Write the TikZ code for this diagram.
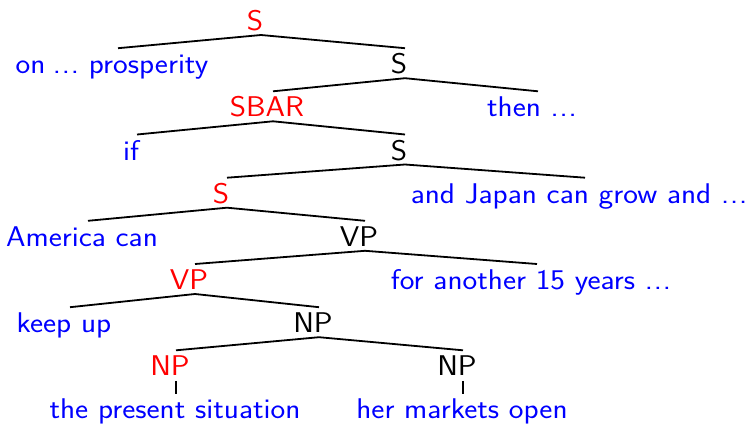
\documentclass[tikz,border=0pt]{standalone}
\usepackage{fontspec}
\setsansfont{Latin Modern Sans}[FakeStretch=1.095]
\newcommand\tdots{.\kern.03em.\kern.03em.}
\begin{document}
\begin{tikzpicture}[x=1pt,y=-1pt,
  lab/.style={anchor=base, inner sep=0pt, font=\sffamily\fontsize{28.5}{34}\selectfont},
  cat/.style={lab, text=black},
  hd/.style={lab, text=red},
  wd/.style={lab, text=blue},
  br/.style={draw=black, line width=1.8pt}]
\newcommand\tedge[2]{\draw[br] ([xshift=6pt,yshift=-4.5pt]#1.base) -- ([xshift=6pt,yshift=25.5pt]#2.base);}
\useasboundingbox (0,0) rectangle (746,423);
% level 0
\node[hd] (s0) at (255,30.5) {S};
% level 1
\node[wd] (w1) at (112,73.7) {on\kern-.08em\ \tdots\ prosperity};
\node[cat] (s1) at (399,73.7) {S};
% level 2
\node[hd] (sbar) at (267,116.8) {SBAR};
\node[wd] (w2) at (532,116.8) {then \tdots};
% level 3
\node[wd] (w3) at (131,160) {if};
\node[cat] (s3) at (399,160) {S};
% level 4
\node[hd] (s4) at (221,203.2) {S};
\node[wd] (w4) at (579,203.2) {and Japan can grow and \tdots};
% level 5
\node[wd] (w5) at (82,246.3) {America can};
\node[cat] (vp5) at (359,246.3) {VP};
% level 6
\node[hd] (vp6) at (189,289.5) {VP};
\node[wd] (w6) at (531,289.5) {for another 15 years \tdots};
% level 7
\node[wd] (w7) at (64,332.7) {keep up};
\node[cat] (np7) at (313,332.7) {NP};
% level 8
\node[hd] (np8a) at (170,375.8) {NP};
\node[cat] (np8b) at (457,375.8) {NP};
% level 9
\node[wd] (w9a) at (175,418.5) {the present situation};
\node[wd] (w9b) at (462,418.5) {her markets open};
% edges
\tedge{s0}{w1}
\tedge{s0}{s1}
\tedge{s1}{sbar}
\tedge{s1}{w2}
\tedge{sbar}{w3}
\tedge{sbar}{s3}
\tedge{s3}{s4}
\tedge{s3}{w4}
\tedge{s4}{w5}
\tedge{s4}{vp5}
\tedge{vp5}{vp6}
\tedge{vp5}{w6}
\tedge{vp6}{w7}
\tedge{vp6}{np7}
\tedge{np7}{np8a}
\tedge{np7}{np8b}
\draw[br] ([xshift=6pt,yshift=-5pt]np8a.base) -- ([xshift=1pt,yshift=25pt]w9a.base);
\draw[br] ([xshift=6pt,yshift=-5pt]np8b.base) -- ([xshift=1pt,yshift=25pt]w9b.base);
\end{tikzpicture}
\end{document}
